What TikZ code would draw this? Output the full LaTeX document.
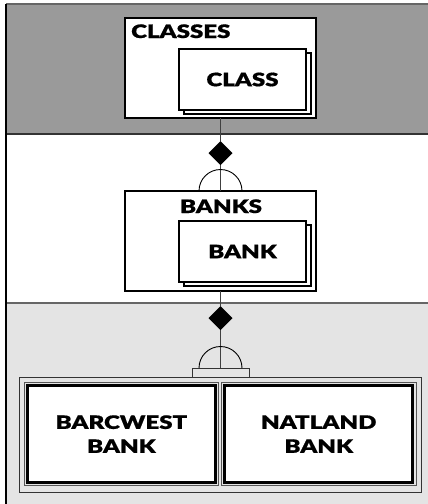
\documentclass[tikz,border=0pt]{standalone}
\usepackage{fontspec}
\setmainfont{Lato}[BoldFont={Lato Black}]
\newfontfamily\heavyfont{Lato Black}[FakeStretch=1.3, FakeBold=0.8]
\usetikzlibrary{shapes.geometric}
\definecolor{bandDark}{HTML}{9A9A9A}
\definecolor{bandLight}{HTML}{E4E4E4}
\definecolor{ruleGray}{HTML}{666666}
\definecolor{haloGray}{HTML}{555555}
\begin{document}
\begin{tikzpicture}[x=1pt,y=-1pt,
  lbl/.style={font=\heavyfont\fontsize{18.5}{24}\selectfont, inner sep=0pt, align=center},
  frame/.style={rectangle, draw=black, line width=2.4pt, fill=white, inner sep=0pt, outer sep=0pt},
  card/.style={rectangle, draw=black, line width=2.2pt, fill=white, inner sep=0pt, outer sep=0pt,
               minimum width=127pt, minimum height=61pt},
  link/.style={draw=black!75, line width=0.9pt},
  agg/.style={diamond, fill=black, inner sep=0pt, outer sep=0pt, minimum width=24pt, minimum height=24pt},
  dome/.style={draw=black, line width=0.9pt},
  member/.style={rectangle, draw=black, line width=2.6pt, fill=white, inner sep=0pt, outer sep=0pt,
                 minimum width=188pt, minimum height=97pt},
  halo/.style={rectangle, draw=haloGray, line width=0.9pt, inner sep=0pt, outer sep=0pt,
               minimum width=194.6pt, minimum height=103.6pt}
]
\useasboundingbox (0,0) rectangle (428,504);

% background bands
\fill[white] (0,0) rectangle (428,504);
\fill[bandDark] (6,4) rectangle (428,134);
\fill[bandLight] (6,303) rectangle (428,504);
\draw[ruleGray, line width=1.4pt] (6,4) -- (428,4);
\draw[black!80, line width=1.6pt] (6,134) -- (428,134);
\draw[ruleGray, line width=1.4pt] (6,303) -- (428,303);
\draw[black, line width=1.6pt] (6,4) -- (6,504);

% CLASSES aggregate
\node[frame, minimum width=191pt, minimum height=100pt] (classes) at (220.5,68) {};
\node[lbl, anchor=base west] (classesT) at (131,38) {CLASSES};
\node[card, line width=1.8pt] (classB) at (247.5,83.5) {};
\node[card] (class) at (242.5,79.5) {};
\node[lbl] (classT) at (242.5,79.5) {CLASS};

% BANKS aggregate
\node[frame, minimum width=191pt, minimum height=100pt] (banks) at (220.5,241) {};
\node[lbl, anchor=base] (banksT) at (221,213) {BANKS};
\node[card, line width=1.8pt] (bankB) at (247.5,255.5) {};
\node[card] (bank) at (242.5,251.5) {};
\node[lbl] (bankT) at (242.5,251.5) {BANK};

% first link: CLASSES -> BANKS
\node[agg] (agg1) at (220.5,153) {};
\draw[link] (classes.south) -- (agg1.north);
\draw[link] (agg1.south) -- (banks.north);
\draw[dome] (banks.north) ++(-21.5pt,0) arc[start angle=180, end angle=0, radius=21.5pt];

% member set container
\node[rectangle, draw=black!80, line width=1pt, inner sep=0pt, outer sep=0pt,
      minimum width=402pt, minimum height=115pt] (set) at (220.5,434.5) {};
\node[rectangle, draw=black!80, fill=bandLight, line width=1pt, inner sep=0pt, outer sep=0pt,
      minimum width=57pt, minimum height=9pt] (hub) at (220.5,372.5) {};

% second link: BANKS -> members
\node[agg] (agg2) at (220.5,318) {};
\draw[link] (banks.south) -- (agg2.north);
\draw[link] (agg2.south) -- (hub.north);
\draw[dome] (hub.north) ++(-21.5pt,0) arc[start angle=180, end angle=0, radius=21.5pt];

% members
\node[halo] (barcH) at (121.4,434.1) {};
\node[member] (barc) at (121.4,434.1) {};
\node[lbl] (barcT) at (121.4,434.1) {BARCWEST\\BANK};
\node[halo] (natH) at (318.75,434.1) {};
\node[member] (nat) at (318.75,434.1) {};
\node[lbl] (natT) at (318.75,434.1) {NATLAND\\BANK};
\end{tikzpicture}
\end{document}
